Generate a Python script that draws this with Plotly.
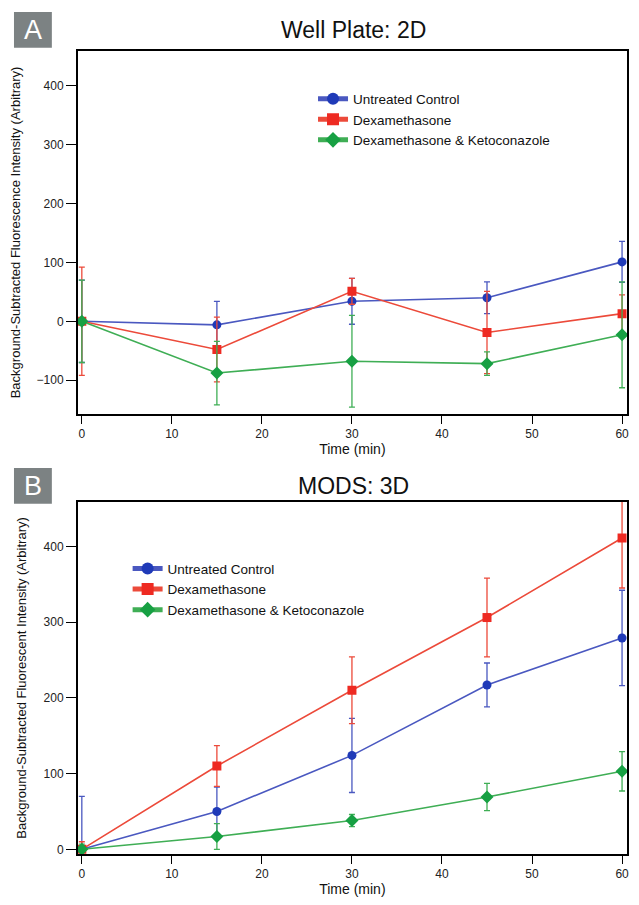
import plotly.graph_objects as go

time_min = [0, 15, 30, 45, 60]
series_names = ["Untreated Control", "Dexamethasone", "Dexamethasone & Ketoconazole"]

# Panel A: Well Plate 2D
a_untreated = [0, -6, 34, 40, 101]
a_untreated_err = [70, 40, 39, 27, 35]
a_dex = [0, -48, 51, -19, 13]
a_dex_err = [92, 55, 22, 70, 32]
a_dexketo = [0, -88, -68, -72, -23]
a_dexketo_err = [70, 54, 78, 20, 90]

# Panel B: MODS 3D
b_untreated = [0, 50, 124, 217, 279]
b_untreated_err = [70, 32, 49, 29, 63]
b_dex = [0, 110, 210, 306, 411]
b_dex_err = [10, 27, 44, 52, 66]
b_dexketo = [0, 17, 38, 69, 103]
b_dexketo_err = [7, 17, 8, 18, 26]

line_colors = ["#4a58c0", "#ec4a3a", "#3fae55"]
marker_colors = ["#1f3ab8", "#ee2a22", "#17a043"]
symbols = ["circle", "square", "diamond"]
sizes = [9, 9, 10]

# page body has an 8px margin: figure drawn at (8, 8); keep page from overflowing
OFF = 8
W, H = 639 - 2 * OFF, 905 - 2 * OFF
fig = go.Figure()

def px(v):
    return (v - OFF) / W

def py(v):
    return 1 - (v - OFF) / H

def add_panel(vals, errs, xa, ya, legend):
    for i, (v, e) in enumerate(zip(vals, errs)):
        fig.add_trace(go.Scatter(
            x=time_min, y=v, name=series_names[i], mode="lines+markers",
            xaxis=xa, yaxis=ya, legend=legend, cliponaxis=True,
            line=dict(color=line_colors[i], width=1.6),
            marker=dict(color=marker_colors[i], symbol=symbols[i], size=sizes[i]),
            error_y=dict(type="data", array=e, visible=True, color=line_colors[i],
                         thickness=1.3, width=3),
        ))

add_panel([a_untreated, a_dex, a_dexketo], [a_untreated_err, a_dex_err, a_dexketo_err], "x", "y", "legend")
add_panel([b_untreated, b_dex, b_dexketo], [b_untreated_err, b_dex_err, b_dexketo_err], "x2", "y2", "legend2")

base = dict(showline=True, linecolor="black", linewidth=1.6, mirror=True,
            ticks="outside", tickwidth=1.4, tickcolor="black",
            showgrid=False, zeroline=False,
            tickfont=dict(family="Liberation Sans, Arial", size=12, color="#222"))
xax = dict(base, ticklen=8, range=[-0.45, 60.55], tickvals=[0, 10, 20, 30, 40, 50, 60],
           domain=[px(78), px(629)], ticklabeloverflow="allow")
yax = dict(base, ticklen=10)

fig.update_layout(
    width=W, height=H, margin=dict(l=0, r=0, t=0, b=0),
    plot_bgcolor="white", paper_bgcolor="white",
    font=dict(family="Liberation Sans, Arial", color="#111"),
    xaxis=dict(xax, anchor="y",
               title=dict(text="Time (min)", font=dict(size=14), standoff=4)),
    yaxis=dict(yax, domain=[py(417), py(51)], anchor="x", range=[-158, 460],
               tickvals=[-100, 0, 100, 200, 300, 400],
               title=dict(text="Background-Subtracted Fluorescence Intensity (Arbitrary)",
                          font=dict(size=13), standoff=14)),
    xaxis2=dict(xax, anchor="y2",
                title=dict(text="Time (min)", font=dict(size=14), standoff=6)),
    yaxis2=dict(yax, domain=[py(860), py(505)], anchor="x2", range=[-6.5, 459],
                tickvals=[0, 100, 200, 300, 400],
                title=dict(text="Background-Subtracted Fluorescent Intensity (Arbitrary)",
                           font=dict(size=13), standoff=14)),
    legend=dict(x=px(314), y=py(84), xanchor="left", yanchor="top",
                bgcolor="rgba(0,0,0,0)", font=dict(size=13.5, color="#111"),
                tracegroupgap=0, itemsizing="constant"),
    legend2=dict(x=px(128), y=py(557), xanchor="left", yanchor="top",
                 bgcolor="rgba(0,0,0,0)", font=dict(size=13.5, color="#111"),
                 tracegroupgap=0, itemsizing="constant"),
    showlegend=True,
)

# Panel titles
fig.add_annotation(text="Well Plate: 2D", x=px(355), y=py(30), xref="paper", yref="paper",
                   xanchor="center", yanchor="middle",
                   showarrow=False, font=dict(size=23, color="#111"))
fig.add_annotation(text="MODS: 3D", x=px(355), y=py(489), xref="paper", yref="paper",
                   xanchor="center", yanchor="middle",
                   showarrow=False, font=dict(size=23, color="#111"))

# Panel letter boxes
for letter, top in [("A", 12), ("B", 471)]:
    fig.add_shape(type="rect", xref="paper", yref="paper",
                  x0=px(14), x1=px(52), y0=py(top + 36), y1=py(top),
                  fillcolor="#7c8283", line=dict(width=0))
    fig.add_annotation(text=letter, x=px(33), y=py(top + 18), xref="paper", yref="paper",
                       xanchor="center", yanchor="middle",
                       showarrow=False, font=dict(size=27, color="white"))

fig.write_html("out.html")
